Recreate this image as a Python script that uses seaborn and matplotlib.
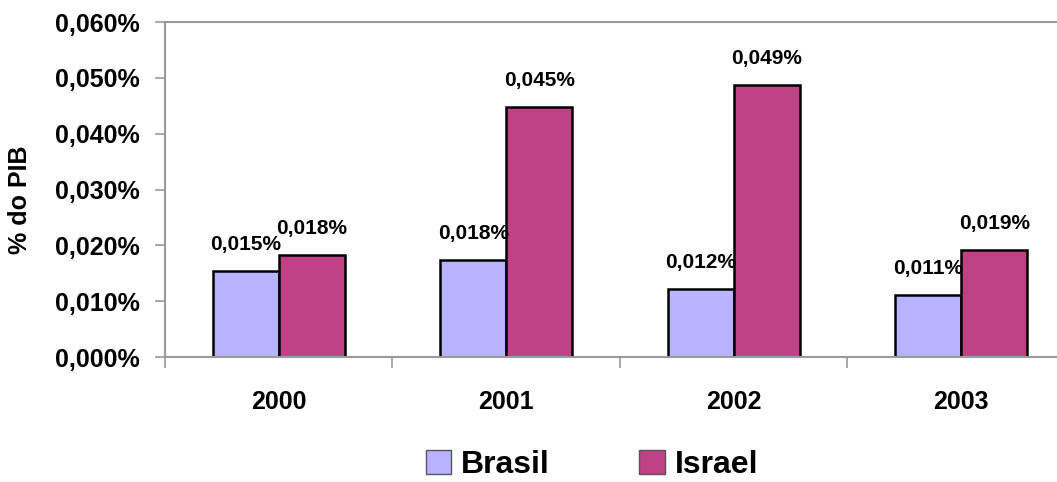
import pandas as pd
import matplotlib.pyplot as plt
import matplotlib.ticker as mticker
import seaborn as sns

# dados (% do PIB)
anos = ['2000', '2001', '2002', '2003']
brasil = [0.0154, 0.0174, 0.0122, 0.0111]
israel = [0.0183, 0.0448, 0.0487, 0.0192]
rotulos_brasil = ['0,015%', '0,018%', '0,012%', '0,011%']
rotulos_israel = ['0,018%', '0,045%', '0,049%', '0,019%']
paises = ['Brasil', 'Israel']
cores = {'Brasil': '#B7B3FF', 'Israel': '#C04286'}

df = pd.DataFrame({
    'ano': anos * 2,
    'valor': brasil + israel,
    'pais': ['Brasil'] * len(anos) + ['Israel'] * len(anos),
})

sns.set_style('white')
plt.rcParams['font.family'] = ['Liberation Sans', 'DejaVu Sans']
plt.rcParams['font.weight'] = 'bold'
plt.rcParams['text.color'] = 'black'
plt.rcParams['axes.labelcolor'] = 'black'
plt.rcParams['xtick.labelcolor'] = 'black'
plt.rcParams['ytick.labelcolor'] = 'black'

fig = plt.figure(figsize=(10.57, 4.82), dpi=100, facecolor='white')
ax = fig.add_axes([0.156, 0.2593, 0.861, 0.695])

sns.barplot(data=df, x='ano', y='valor', hue='pais', hue_order=paises,
            palette=cores, saturation=1, width=0.58, edgecolor='black',
            linewidth=1.8, ax=ax, legend=False)

# rótulos acima das barras
for cont, rot in zip(ax.containers, [rotulos_brasil, rotulos_israel]):
    ax.bar_label(cont, labels=rot, padding=12, fontsize=15, fontweight='bold', color='black')

# eixos
ax.set_ylim(0, 0.06)
ax.set_xlim(-0.5, 3.5)
ax.yaxis.set_major_locator(mticker.MultipleLocator(0.01))
ax.yaxis.set_major_formatter(mticker.FuncFormatter(lambda v, p: f'{v:.3f}%'.replace('.', ',')))
ax.set_xticks([-0.5, 0.5, 1.5, 2.5, 3.5], minor=True)

for s in ['left', 'bottom', 'top', 'right']:
    ax.spines[s].set_color('#9a9a9a')
    ax.spines[s].set_linewidth(1.5)

ax.tick_params(axis='y', which='major', direction='out', length=7, width=1.2,
               color='#9a9a9a', pad=11, labelsize=18, left=True, labelcolor='black')
ax.tick_params(axis='x', which='major', length=0, pad=24, labelsize=18, labelcolor='black')
ax.tick_params(axis='x', which='minor', direction='out', length=8, width=1.2,
               color='#9a9a9a', bottom=True)
for t in ax.get_xticklabels() + ax.get_yticklabels():
    t.set_fontweight('bold')

ax.set_xlabel('')
ax.set_ylabel('% do PIB', fontsize=18, fontweight='bold', color='black')
ax.yaxis.set_label_coords(-0.146, 0.47)

# legenda
handles = [plt.Rectangle((0, 0), 1, 1, facecolor=cores[p], edgecolor='#555555', linewidth=1) for p in paises]
fig.legend(handles, paises, loc='center', bbox_to_anchor=(0.56, 0.035), ncol=2,
           frameon=False, prop={'size': 23, 'weight': 'bold'}, labelcolor='black',
           handlelength=0.8, handleheight=0.8, handletextpad=0.3, columnspacing=2.8)

fig.savefig('out.png', dpi=100, facecolor='white')
